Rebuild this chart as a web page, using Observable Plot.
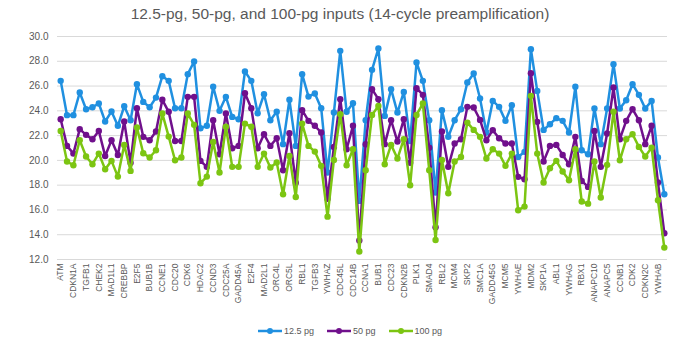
<!DOCTYPE html>
<html>
<head>
<meta charset="utf-8">
<script src="https://cdn.jsdelivr.net/npm/d3@7"></script>
<script src="https://cdn.jsdelivr.net/npm/@observablehq/plot@0.6"></script>
<style>
  html, body { margin: 0; padding: 0; background: #fff; }
  #wrap { position: relative; width: 680px; height: 350px; font-family: "Liberation Sans", Arial, sans-serif; color: #595959; overflow: hidden; }
  #title { position: absolute; left: 0; top: 5px; width: 680px; text-align: center; font-size: 15.5px; line-height: 18px; }
  #ylab { position: absolute; left: 6px; top: 132px; font-size: 12px; }
  #ylab sub { font-size: 9px; vertical-align: -3px; }
  #chart { position: absolute; left: 0; top: 30px; }
  #legend { position: absolute; left: 258px; top: 324px; display: flex; align-items: center; font-size: 9px; height: 14px; }
  .item { display: flex; align-items: center; margin-right: 13px; }
  .item svg { margin-right: 2px; }
</style>
</head>
<body>
<div id="wrap">
  <div id="title">12.5-pg, 50-pg, and 100-pg inputs (14-cycle preamplification)</div>
  <div id="ylab">C<sub>t</sub></div>
  <div id="chart"></div>
  <div id="legend"></div>
</div>
<script>
// Labeled genes (every other well position is labeled on the axis)
const labeledGenes = ["ATM","CDKN1A","TGFB1","CHEK2","MAD1L1","CREBBP","E2F5","BUB1B","CCNE1","CDC20",
  "CDK6","HDAC2","CCND3","CDC25A","GADD45A","E2F4","MAD2L1","ORC4L","ORC5L","RBL1",
  "TGFB3","YWHAZ","CDC45L","CDC14B","CCNA1","BUB1","CDC23","CDKN2B","PLK1","SMAD4",
  "RBL2","MCM4","SKP2","SMC1A","GADD45G","MCM5","YWHAE","MDM2","SKP1A","ABL1",
  "YWHAG","RBX1","ANAPC10","ANAPC5","CCNB1","CDK2","CDKN2C","YWHAB"];

const seriesNames = ["12.5 pg", "50 pg", "100 pg"];
const seriesColors = ["#2090E0", "#70108C", "#7CC512"];

const ct125 = [26.42,23.65,23.65,25.48,24.13,24.29,24.59,23.14,23.95,22.79,
  24.37,23.24,26.15,24.72,24.29,25.07,26.80,26.42,24.21,24.21,
  26.96,27.98,22.60,22.79,25.94,24.00,25.13,23.51,23.32,27.17,
  26.42,23.81,25.34,23.24,23.92,21.31,24.89,21.17,26.96,25.15,
  25.40,24.21,19.02,23.86,28.84,23.92,24.62,16.73,23.24,27.31,
  29.03,23.59,25.75,23.86,25.53,21.57,27.90,26.42,23.24,17.40,
  24.05,21.90,23.24,24.13,26.29,27.01,25.00,22.25,24.80,24.32,
  23.19,24.45,20.28,20.69,28.98,25.61,22.46,22.92,23.41,23.19,
  22.25,25.94,20.82,20.50,24.19,21.31,24.19,27.77,24.19,24.86,
  26.15,25.29,24.19,24.80,20.23,17.27];

const ct50 = [23.32,21.17,20.55,22.52,22.06,21.71,22.38,20.36,21.63,20.44,
  23.14,19.80,24.21,21.90,21.63,22.33,24.89,23.92,21.57,21.57,
  25.13,25.13,19.96,19.48,23.24,20.50,23.78,20.98,21.17,25.42,
  24.21,20.98,22.11,21.17,21.79,19.20,22.19,18.20,24.05,23.19,
  22.79,22.25,16.90,21.09,24.94,20.90,22.79,13.54,21.30,25.75,
  24.94,21.31,23.24,21.52,23.32,19.80,25.83,25.29,21.03,14.60,
  22.33,19.48,21.36,21.71,24.32,24.27,23.27,21.63,22.44,21.79,
  21.36,21.36,18.67,18.48,27.04,23.11,19.91,21.17,21.25,20.44,
  19.69,21.90,18.34,17.86,22.38,19.48,22.17,25.88,21.71,23.19,
  24.13,23.24,21.31,22.79,18.21,14.12];

const ct100 = [22.38,19.91,19.61,21.63,20.31,19.69,20.55,19.29,19.96,18.69,
  21.25,19.15,22.65,20.58,20.23,20.82,23.78,21.92,20.01,20.23,
  23.78,22.87,18.16,18.69,21.49,19.02,22.71,19.48,19.48,22.97,
  22.71,19.48,20.55,19.42,19.83,17.27,20.36,17.05,22.97,21.17,
  20.71,19.56,15.46,20.04,23.73,19.61,20.90,12.64,19.21,23.67,
  24.40,19.69,21.25,20.15,21.71,17.99,23.67,24.59,19.21,13.58,
  20.04,17.35,19.91,20.28,23.05,22.46,21.90,20.15,20.90,20.55,
  19.56,20.55,15.98,16.27,25.21,20.55,18.21,19.37,19.96,19.10,
  18.40,20.90,16.68,16.51,19.91,17.00,19.64,23.92,20.01,21.71,
  22.11,21.09,20.31,21.03,16.78,12.96];

const yTicks = [12, 14, 16, 18, 20, 22, 24, 26, 28, 30];

const allSeries = [ct125, ct50, ct100];
const positions = d3.range(ct125.length);

const marks = [
  Plot.gridY(yTicks, {stroke: "#d9d9d9", strokeOpacity: 1, strokeWidth: 1})
];
allSeries.forEach((vals, s) => {
  const data = vals.map((v, i) => ({i, v}));
  marks.push(Plot.line(data, {x: "i", y: "v", stroke: seriesColors[s], strokeWidth: 2.5, strokeLinejoin: "round"}));
  marks.push(Plot.dot(data, {x: "i", y: "v", r: 3.2, fill: seriesColors[s], stroke: "none"}));
});
marks.push(Plot.axisY({ticks: yTicks, tickFormat: d => d.toFixed(1), tickSize: 0, tickPadding: 9, fontSize: 10, color: "#595959", label: null}));
marks.push(Plot.axisX({ticks: positions.filter(i => i % 2 === 0), tickFormat: i => labeledGenes[i / 2], tickRotate: -90, tickSize: 0, tickPadding: 4, fontSize: 8.5, color: "#595959", label: null}));

const chart = Plot.plot({
  width: 680,
  height: 285,
  marginLeft: 57,
  marginRight: 13,
  marginTop: 6,
  marginBottom: 56,
  style: {fontFamily: "'Liberation Sans', Arial, sans-serif", color: "#595959", background: "#fff"},
  x: {type: "point", domain: positions, padding: 0.5},
  y: {domain: [12, 30]},
  marks
});
document.getElementById("chart").appendChild(chart);

const legend = document.getElementById("legend");
seriesNames.forEach((name, s) => {
  const item = document.createElement("div");
  item.className = "item";
  item.innerHTML = `<svg width="24" height="10"><line x1="0" y1="5" x2="24" y2="5" stroke="${seriesColors[s]}" stroke-width="2.5"/><circle cx="12" cy="5" r="3" fill="${seriesColors[s]}"/></svg><span>${name}</span>`;
  legend.appendChild(item);
});
</script>
</body>
</html>
